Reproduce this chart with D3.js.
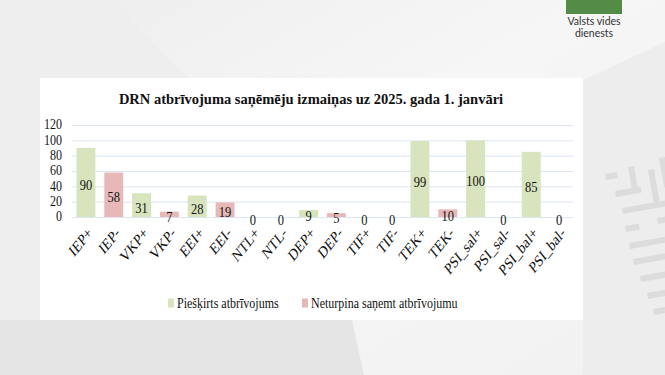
<!DOCTYPE html>
<html>
<head>
<meta charset="utf-8">
<script src="https://cdn.jsdelivr.net/npm/d3@7"></script>
<style>
  html, body { margin: 0; padding: 0; background: #f3f3f4; }
  svg { display: block; }
</style>
</head>
<body>
<svg id="slide" width="665" height="375"></svg>
<script>
// chart data
const categories = ["IEP+", "IEP-", "VKP+", "VKP-", "EEI+", "EEI-", "NTL+", "NTL-", "DEP+", "DEP-",
    "TIF+", "TIF-", "TEK+", "TEK-", "PSI_sal+", "PSI_sal-", "PSI_bal+", "PSI_bal-"];
const values = [90, 58, 31, 7, 28, 19, 0, 0, 9, 5, 0, 0, 99, 10, 100, 0, 85, 0];
const seriesOf = ["granted", "stopped", "granted", "stopped", "granted", "stopped", "granted", "stopped",
    "granted", "stopped", "granted", "stopped", "granted", "stopped", "granted", "stopped", "granted", "stopped"];
const seriesNames = ["Piešķirts atbrīvojums", "Neturpina saņemt atbrīvojumu"];
const yTicks = [0, 20, 40, 60, 80, 100, 120];

const colors = { granted: "#d7e4bd", stopped: "#e6b9b8" };
const serif = "'Liberation Serif', 'Times New Roman', serif";

const svg = d3.select("#slide");

// slide background
const defs = svg.append("defs");
const bg = defs.append("linearGradient").attr("id", "bg").attr("x1", 0).attr("y1", 0).attr("x2", 1).attr("y2", 1);
bg.append("stop").attr("offset", "0%").attr("stop-color", "#ededee");
bg.append("stop").attr("offset", "45%").attr("stop-color", "#f6f6f6");
bg.append("stop").attr("offset", "100%").attr("stop-color", "#f1f1f2");
svg.append("rect").attr("width", 665).attr("height", 375).attr("fill", "url(#bg)");

svg.append("polygon").attr("points", "0,0 110,0 190,80 40,80 40,320 0,320").attr("fill", "#eeeeef");
svg.append("polygon").attr("points", "0,320 352,320 364,375 0,375").attr("fill", "#e5e5e6");
svg.append("polygon").attr("points", "583,80 665,42 665,375 583,375").attr("fill", "#ededee");

// hash mark decoration
const marks = [
    [605, 174, 12, 6], [628, 167, 6, 26], [615, 191, 26, 6],
    [648, 170, 6, 36], [659, 158, 6, 30],
    [622, 208, 44, 6], [625, 226, 14, 6], [657, 218, 10, 6],
    [629, 243, 38, 6], [633, 259, 34, 6], [640, 276, 27, 6],
    [647, 293, 20, 6], [653, 309, 14, 6]
];
svg.append("g").selectAll("rect").data(marks).join("rect")
    .attr("x", d => d[0]).attr("y", d => d[1])
    .attr("width", d => d[2]).attr("height", d => d[3])
    .attr("fill", "#dcdcdd")
    .attr("transform", d => `rotate(-10,${d[0]},${d[1]})`);

// logo
svg.append("rect").attr("x", 566).attr("y", 0).attr("width", 56).attr("height", 14).attr("fill", "#548b46");
svg.append("text").attr("x", 594).attr("y", 25).attr("text-anchor", "middle")
    .attr("font-family", "Lato, sans-serif").attr("font-size", 10.5).attr("fill", "#333")
    .text("Valsts vides");
svg.append("text").attr("x", 594).attr("y", 37).attr("text-anchor", "middle")
    .attr("font-family", "Lato, sans-serif").attr("font-size", 10.5).attr("fill", "#333")
    .text("dienests");

// chart panel
svg.append("rect").attr("x", 40).attr("y", 78).attr("width", 543).attr("height", 242).attr("fill", "#ffffff");

svg.append("text")
    .attr("x", 311).attr("y", 104)
    .attr("text-anchor", "middle")
    .attr("font-family", serif).attr("font-weight", "bold").attr("font-size", 14.5)
    .attr("fill", "#111")
    .text("DRN atbrīvojuma saņēmēju izmaiņas uz 2025. gada 1. janvāri");

const x = d3.scaleBand().domain(categories).range([72, 573]).paddingInner(0.32).paddingOuter(0.16);
const y = d3.scaleLinear().domain([0, 120]).range([217, 125]);

// gridlines + y labels
const yAxis = svg.append("g")
    .attr("transform", "translate(72,0)")
    .call(d3.axisLeft(y).tickValues(yTicks).tickSize(-501).tickPadding(10));
yAxis.select(".domain").remove();
yAxis.selectAll("line").attr("stroke", "#dce6f2");
yAxis.selectAll("text")
    .attr("font-family", serif).attr("font-size", 12).attr("fill", "#111")
    .attr("dy", null).attr("dominant-baseline", "central")
    .attr("transform", "translate(0,-1) scale(1,1.2)")
    .attr("y", 0);

const data = categories.map((c, i) => ({ cat: c, value: values[i], series: seriesOf[i] }));

svg.append("g").selectAll("rect").data(data).join("rect")
    .attr("x", d => x(d.cat))
    .attr("y", d => y(d.value))
    .attr("width", x.bandwidth())
    .attr("height", d => y(0) - y(d.value))
    .attr("fill", d => colors[d.series]);

svg.append("g").selectAll("text").data(data).join("text")
    .attr("transform", d => `translate(${x(d.cat) + x.bandwidth() / 2},${(y(d.value) + y(0)) / 2 + 2}) scale(1,1.25)`)
    .attr("text-anchor", "middle")
    .attr("dominant-baseline", "central")
    .attr("font-family", serif).attr("font-size", 12.5)
    .attr("fill", "#111")
    .text(d => d.value);

// category labels
svg.append("g").selectAll("text").data(categories).join("text")
    .attr("transform", d => `translate(${x(d) + x.bandwidth() / 2 + 4},${230}) scale(1,1.25) rotate(-45)`)
    .attr("text-anchor", "end")
    .attr("dominant-baseline", "central")
    .attr("font-family", serif).attr("font-size", 13)
    .attr("fill", "#111")
    .text(d => d);

// legend
const legendX = [168, 302];
const legend = svg.append("g").selectAll("g").data(seriesNames).join("g")
    .attr("transform", (d, i) => `translate(${legendX[i]},303)`);
legend.append("rect").attr("x", 0).attr("y", -4.5).attr("width", 6).attr("height", 9)
    .attr("fill", (d, i) => colors[i === 0 ? "granted" : "stopped"]);
legend.append("text").attr("x", 9).attr("y", 0)
    .attr("transform", "scale(1,1.2)")
    .attr("dominant-baseline", "central")
    .attr("font-family", serif).attr("font-size", 12)
    .attr("fill", "#111")
    .text(d => d);
</script>
</body>
</html>
